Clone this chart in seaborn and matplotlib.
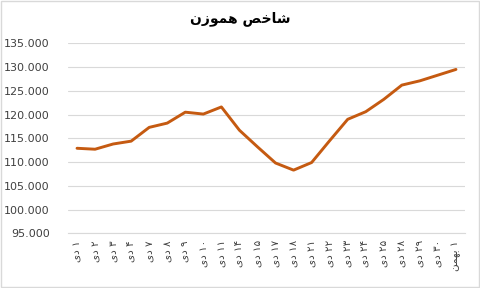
import matplotlib
matplotlib.use("Agg")
import matplotlib.pyplot as plt
import seaborn as sns
import numpy as np
import pandas as pd
from matplotlib.ticker import FuncFormatter
from matplotlib.patches import Rectangle

# Persian digits
FA = str.maketrans("0123456789", "۰۱۲۳۴۵۶۷۸۹")

# visual-order (pre-shaped) Persian words, since matplotlib has no bidi/shaping
DEY = "\u06cc\u062f"                          # "دی" in visual order
BAHMAN = "\ufee6\ufee4\ufeec\ufe91"           # "بهمن" shaped, visual order
TITLE = "\ufee5\ufeaf\ufeee\ufee4\ufeeb \ufeba\ufea7\ufe8e\ufeb7"  # "شاخص هموزن"

days = ["1", "2", "3", "4", "7", "8", "9", "10", "11", "14", "15",
        "17", "18", "21", "22", "23", "24", "25", "28", "29", "30"]
tick_labels = [DEY + " " + d.translate(FA) for d in days] + [BAHMAN + " " + "1".translate(FA)]

values = [112.9, 112.7, 113.8, 114.4, 117.3, 118.2, 120.5, 120.1, 121.6, 116.7,
          113.2, 109.8, 108.3, 109.9, 114.5, 119.0, 120.6, 123.2, 126.2, 127.1,
          128.3, 129.5]

yticks = [95, 100, 105, 110, 115, 120, 125, 130, 135]

df = pd.DataFrame({"idx": np.arange(len(values)), "value": values})

sns.set_theme(style="white")
plt.rcParams["font.family"] = ["DejaVu Sans"]

fig = plt.figure(figsize=(4.8, 2.88), dpi=100)
ax = fig.add_axes([68 / 480, 1 - 233.3 / 288, (465 - 68) / 480, (233.3 - 43.3) / 288])

sns.lineplot(data=df, x="idx", y="value", ax=ax, color="#C55A11", linewidth=2.1,
             solid_joinstyle="round", solid_capstyle="round", zorder=3)

ax.set_xlim(-0.5, len(values) - 0.5)
ax.set_ylim(yticks[0], yticks[-1])
ax.set_yticks(yticks)
ax.yaxis.set_major_formatter(FuncFormatter(lambda v, p: f"{v:.3f}"))
ax.set_xticks(df["idx"])
ax.set_xticklabels(tick_labels, rotation=90, fontsize=7.5, color="#404040")
ax.tick_params(axis="y", labelsize=8, labelcolor="#404040", length=0, pad=13)
ax.tick_params(axis="x", length=0, pad=5)
ax.grid(axis="y", color="#d9d9d9", linewidth=0.8)
ax.grid(axis="x", visible=False)
for s in ["top", "right", "left"]:
    ax.spines[s].set_visible(False)
ax.spines["bottom"].set_color("#d9d9d9")
ax.spines["bottom"].set_linewidth(0.8)
ax.set_xlabel("")
ax.set_ylabel("")

fig.text(0.5, 1 - 19 / 288, TITLE, ha="center", va="center", fontsize=10,
         fontweight="bold", color="#000000")

fig.patches.append(Rectangle((0.002, 0.003), 0.995, 0.994, transform=fig.transFigure,
                             fill=False, edgecolor="#d9d9d9", linewidth=1))

fig.savefig("out.png", dpi=100)
